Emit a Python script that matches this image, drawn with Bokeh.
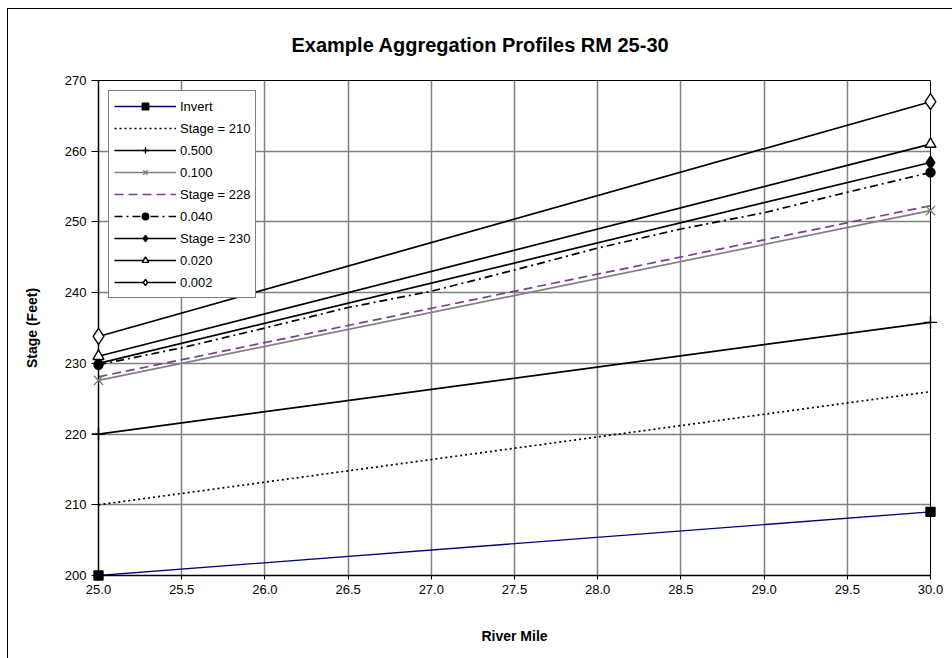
from bokeh.plotting import figure
from bokeh.models import (FixedTicker, NumeralTickFormatter,
                          Legend, LegendItem, Range1d, Title)
from bokeh.embed import file_html
from bokeh.resources import INLINE

# ---------------- data ----------------
title_text = "Example Aggregation Profiles RM 25-30"

river_mile = [25.0, 30.0]
invert = [200.0, 209.0]
stage_210 = [210.0, 226.0]
q_0500 = [220.0, 235.8]
q_0100 = [227.6, 251.6]
stage_228 = [228.1, 252.3]
stage_230 = [230.0, 258.4]
q_0020 = [231.0, 261.0]
q_0002 = [233.8, 267.0]

river_mile_040 = [25.0, 25.5, 26.0, 26.5, 27.0, 27.5, 28.0, 28.5, 29.0, 29.5, 30.0]
q_0040 = [229.8, 232.2, 235.0, 237.9, 240.2, 243.2, 246.3, 249.0, 251.3, 254.2, 257.0]

x_ticks = [25.0, 25.5, 26.0, 26.5, 27.0, 27.5, 28.0, 28.5, 29.0, 29.5, 30.0]
y_ticks = [200, 210, 220, 230, 240, 250, 260, 270]

FONT = "Liberation Sans"

p = figure(width=945, height=650, x_range=Range1d(25, 30), y_range=Range1d(200, 270),
           output_backend="svg", toolbar_location=None,
           min_border_left=90, min_border_right=23, min_border_top=71, min_border_bottom=84)
p.styles = {"margin-left": "7px", "margin-top": "8px",
            "border-top": "1px solid #000", "border-left": "1px solid #000"}

p.title = Title(text=title_text, align="left", offset=193, vertical_align="top",
                text_font=FONT, text_font_size="20px", text_font_style="bold",
                text_color="#000000", standoff=45)

p.outline_line_color = "#000000"
p.outline_line_width = 1
p.background_fill_color = "white"
p.border_fill_color = "white"

# axes
for ax in (p.xaxis[0], p.yaxis[0]):
    ax.axis_line_color = "#000000"
    ax.axis_line_width = 1.5
    ax.major_tick_line_color = "#000000"
    ax.minor_tick_line_color = None
    ax.major_tick_in = 0
    ax.major_label_text_font = FONT
    ax.major_label_text_font_size = "13px"
    ax.major_label_text_color = "#000000"
    ax.axis_label_text_font = FONT
    ax.axis_label_text_font_size = "14px"
    ax.axis_label_text_font_style = "bold"
    ax.axis_label_text_color = "#000000"

p.xaxis.ticker = FixedTicker(ticks=x_ticks)
p.xaxis.formatter = NumeralTickFormatter(format="0.0")
p.xaxis.axis_label = "River Mile"
p.xaxis.major_tick_out = 4
p.xaxis.major_label_standoff = 5
p.xaxis.axis_label_standoff = 31

p.yaxis.ticker = FixedTicker(ticks=y_ticks)
p.yaxis.axis_label = "Stage (Feet)"
p.yaxis.major_tick_out = 7
p.yaxis.major_label_standoff = 5
p.yaxis.axis_label_standoff = 22

p.xgrid.ticker = FixedTicker(ticks=x_ticks)
p.ygrid.ticker = FixedTicker(ticks=y_ticks)
p.xgrid.grid_line_color = "#808080"
p.ygrid.grid_line_color = "#808080"
p.xgrid.grid_line_width = 1.5
p.ygrid.grid_line_width = 1.5

NAVY = "#000080"
GRAY = "#808080"
PURPLE = "#7B3F8C"

series = [
    # label, x, y, line color, dash, marker, marker fill, marker line, marker size
    ("Invert", river_mile, invert, NAVY, "solid", "square", "#000000", "#000000", 9),
    ("Stage = 210", river_mile, stage_210, "#000000", "2 3", None, None, None, 0),
    ("0.500", river_mile, q_0500, "#000000", "solid", "cross", None, "#000000", 13),
    ("0.100", river_mile, q_0100, GRAY, "solid", "x", None, GRAY, 13),
    ("Stage = 228", river_mile, stage_228, PURPLE, "9 5", None, None, None, 0),
    ("0.040", river_mile_040, q_0040, "#000000", "8 4 2 4", "circle", "#000000", "#000000", 9),
    ("Stage = 230", river_mile, stage_230, "#000000", "solid", "diamond", "#000000", "#000000", 13),
    ("0.020", river_mile, q_0020, "#000000", "solid", "triangle", "#FFFFFF", "#000000", 11),
    ("0.002", river_mile, q_0002, "#000000", "solid", "diamond", "#FFFFFF", "#000000", 16),
]

items = []
for label, xs, ys, lc, dash, marker, mfill, mline, msize in series:
    lw = 1.3 if lc == NAVY else 1.7
    rs = [p.line(xs, ys, line_color=lc, line_width=lw, line_dash=dash)]
    if marker:
        ex = [xs[0], xs[-1]]
        ey = [ys[0], ys[-1]]
        rs.append(p.scatter(ex, ey, marker=marker, size=msize,
                            fill_color=mfill, line_color=mline, line_width=1.4,
                            level="overlay"))
    items.append(LegendItem(label=label, renderers=rs))

legend = Legend(items=items, location="top_left", margin=10, padding=5, spacing=2,
                glyph_width=62, glyph_height=16, label_height=20, label_standoff=4,
                label_text_font=FONT, label_text_font_size="13px", label_text_color="#000000",
                border_line_color="#000000", border_line_width=1,
                background_fill_color="white", background_fill_alpha=1.0)
p.add_layout(legend)

open("out.html", "w").write(file_html(p, INLINE))
